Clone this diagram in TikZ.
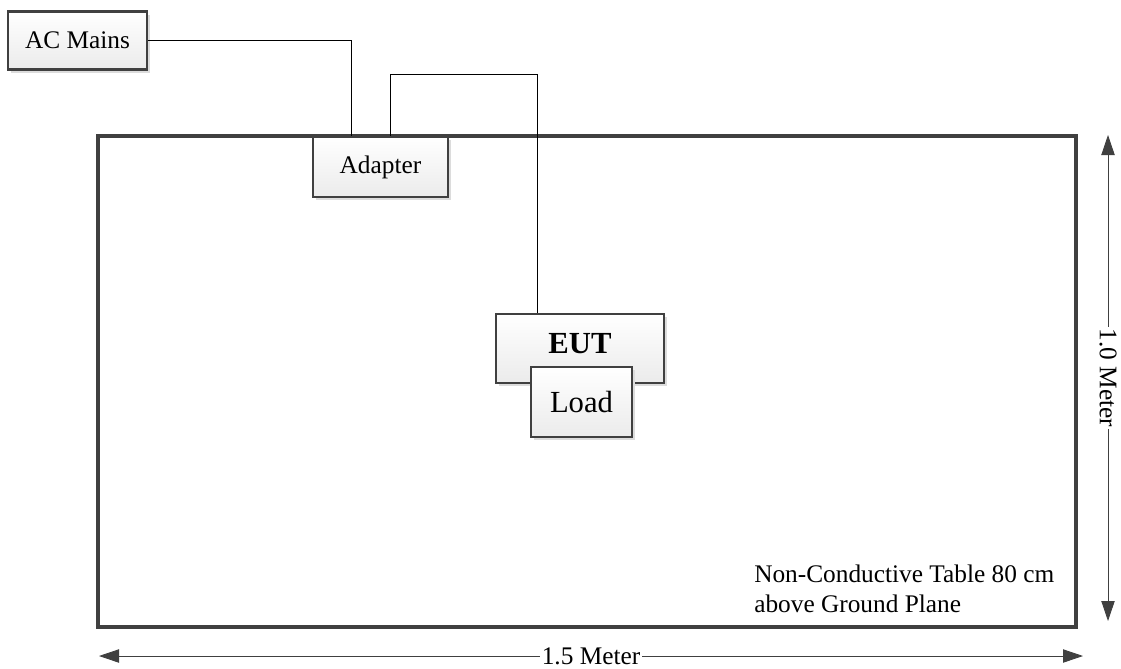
\documentclass[tikz,border=0pt]{standalone}
\usepackage{fontspec}
\setmainfont{Liberation Serif}
\usetikzlibrary{arrows.meta,shadows,calc}
\definecolor{bordergray}{HTML}{404040}
\definecolor{boxgray}{HTML}{EBEBEB}
\definecolor{shadowgray}{HTML}{DCDCDC}
\definecolor{dimgray}{HTML}{404040}
\begin{document}
\begin{tikzpicture}[x=0.75pt,y=-0.75pt,
  font=\fontsize{19}{22}\selectfont,
  box/.style={draw=bordergray, line width=1.9pt, top color=white, bottom color=boxgray,
    drop shadow={shadow xshift=2.5pt, shadow yshift=-2.5pt, fill=shadowgray, opacity=1},
    inner sep=0pt},
  bigtext/.style={font=\fontsize{23}{26}\selectfont},
  tablebox/.style={draw=bordergray, line width=2.6pt, fill=white,
    drop shadow={shadow xshift=1.5pt, shadow yshift=-1.5pt, fill=shadowgray, opacity=1},
    inner sep=0pt, minimum width=733.5pt, minimum height=368.25pt},
  wire/.style={draw=black, line width=0.6pt},
  dim/.style={draw=dimgray, line width=0.6pt,
    {Triangle[length=15pt,width=10pt]}-{Triangle[length=15pt,width=10pt]}},
  dimlabel/.style={fill=white, inner sep=1.5pt}
]
\useasboundingbox (0,0) rectangle (1121,668);
% table
\node[tablebox] (table) at (587,381.5) {};
% boxes
\node[box, minimum width=104.25pt, minimum height=43.5pt] (acmains) at (77.5,40.5) {AC Mains};
\node[box, minimum width=101.25pt, minimum height=45pt] (adapter) at (380.5,167) {Adapter};
\node[box, minimum width=126pt, minimum height=51.75pt] (eut) at (580,348.5) {};
\node[bigtext, font=\fontsize{23}{26}\selectfont\bfseries] (euttext) at (580,344) {EUT};
\node[box, bigtext, minimum width=75.75pt, minimum height=52.5pt] (load) at (581.5,402) {Load};
% wires
\draw[wire] (acmains.east) -| ($(adapter.north west)+(40,0)$);
\draw[wire] ($(adapter.north west)+(79,0)$) -- ++(0,-61) -| ($(eut.north west)+(43,0)$);
% note
\node[anchor=north west, align=left, inner sep=0pt] (note) at (754,565) {Non-Conductive Table 80 cm\\above Ground Plane};
% dimensions
\coordinate (vt) at (1108,135);
\coordinate (vb) at (1108,621);
\draw[dim] (vt) -- node[dimlabel, rotate=-90] (vlabel) {1.0 Meter} (vb);
\coordinate (hl) at (99,656);
\coordinate (hr) at (1083,656);
\draw[dim] (hl) -- node[dimlabel] (hlabel) {1.5 Meter} (hr);
\end{tikzpicture}
\end{document}
